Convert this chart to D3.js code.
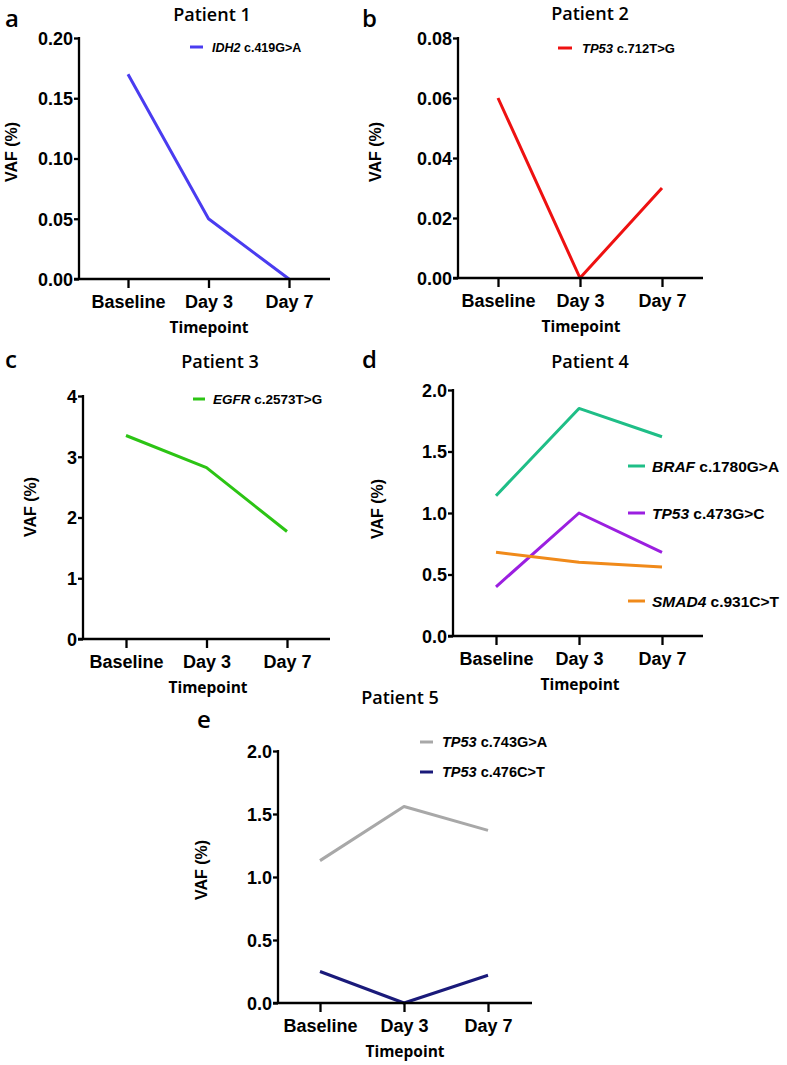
<!DOCTYPE html>
<html>
<head>
<meta charset="utf-8">
<script src="https://cdn.jsdelivr.net/npm/d3@7"></script>
<style>
  html, body { margin: 0; padding: 0; background: #fff; }
  svg { display: block; }
  .tick text { font-family: "Liberation Sans", Arial, sans-serif; font-weight: bold; font-size: 18px; fill: #000; }
</style>
</head>
<body>
<div id="chart"></div>
<script>
// ---------- DATA ----------
const timepoints = ["Baseline", "Day 3", "Day 7"];

const p1Series = [{ gene: "IDH2", change: "c.419G>A", values: [0.17, 0.05, 0.0] }];
const p2Series = [{ gene: "TP53", change: "c.712T>G", values: [0.06, 0.0, 0.03] }];
const p3Series = [{ gene: "EGFR", change: "c.2573T>G", values: [3.35, 2.82, 1.77] }];
const p4Series = [
  { gene: "BRAF", change: "c.1780G>A", values: [1.14, 1.85, 1.62] },
  { gene: "TP53", change: "c.473G>C", values: [0.40, 1.00, 0.68] },
  { gene: "SMAD4", change: "c.931C>T", values: [0.68, 0.60, 0.56] }
];
const p5Series = [
  { gene: "TP53", change: "c.743G>A", values: [1.13, 1.56, 1.37] },
  { gene: "TP53", change: "c.476C>T", values: [0.25, 0.0, 0.22] }
];

const p1Ticks = [0, 0.05, 0.10, 0.15, 0.20];
const p2Ticks = [0, 0.02, 0.04, 0.06, 0.08];
const p3Ticks = [0, 1, 2, 3, 4];
const p4Ticks = [0, 0.5, 1.0, 1.5, 2.0];
const p5Ticks = [0, 0.5, 1.0, 1.5, 2.0];

const panelTitles = ["Patient 1", "Patient 2", "Patient 3", "Patient 4", "Patient 5"];
const panelLetters = ["a", "b", "c", "d", "e"];
const yAxisLabel = "VAF (%)";
const xAxisLabel = "Timepoint";

// ---------- STYLES / LAYOUT ----------
const W = 787, H = 1065;
const svg = d3.select("#chart").append("svg").attr("width", W).attr("height", H);

const titleFont = "'Open Sans', 'Noto Sans', sans-serif";
const tickFont = "'Liberation Sans', Arial, sans-serif";

const panels = [
  { series: p1Series, ticks: p1Ticks, fmt: ".2f", colors: ["#4a3cf0"],
    x0: 79, x1: 330, px: [128, 289], yTop: 38, yBot: 279,
    yLab: [11, 152], title: [212, 21], letter: [5, 27], xLab: 209,
    legend: { lx: 190, lw: 13, tx: 212, ys: [47], fs: 12.5 } },
  { series: p2Series, ticks: p2Ticks, fmt: ".2f", colors: ["#ee1111"],
    x0: 458, x1: 703, px: [498, 662], yTop: 38, yBot: 278,
    yLab: [375, 152], title: [590, 20], letter: [362, 27], xLab: 581,
    legend: { lx: 558, lw: 14, tx: 582, ys: [48], fs: 13 } },
  { series: p3Series, ticks: p3Ticks, fmt: "d", colors: ["#2cc414"],
    x0: 83, x1: 330, px: [126, 287], yTop: 396, yBot: 639,
    yLab: [30, 507], title: [220, 368], letter: [5, 368], xLab: 208,
    legend: { lx: 193, lw: 12, tx: 213, ys: [399], fs: 13.5 } },
  { series: p4Series, ticks: p4Ticks, fmt: ".1f", colors: ["#1fbe87", "#9b1fe0", "#f08a1a"],
    x0: 453, x1: 703, px: [496, 662], yTop: 390, yBot: 636,
    yLab: [377, 509], title: [590, 368], letter: [362, 368], xLab: 580,
    legend: { lx: 628, lw: 17, tx: 652, ys: [466, 513, 601], fs: 15.5 } },
  { series: p5Series, ticks: p5Ticks, fmt: ".1f", colors: ["#a8a8a8", "#1a1a7a"],
    x0: 278, x1: 532, px: [320, 488], yTop: 751, yBot: 1003,
    yLab: [201, 870], title: [400, 704], letter: [197, 728], xLab: 405,
    legend: { lx: 420, lw: 13, tx: 442, ys: [742, 772], fs: 14.5 } }
];

panels.forEach((p, i) => {
  const g = svg.append("g");
  const x = d3.scalePoint().domain(timepoints).range(p.px);
  const y = d3.scaleLinear().domain([0, d3.max(p.ticks)]).range([p.yBot, p.yTop]);

  // lines
  const line = d3.line().x((d, k) => x(timepoints[k])).y(d => y(d));
  p.series.forEach((s, j) => {
    g.append("path").datum(s.values)
      .attr("d", line)
      .attr("fill", "none")
      .attr("stroke", p.colors[j])
      .attr("stroke-width", 3)
      .attr("stroke-linejoin", "round");
  });

  // y axis
  const yAx = g.append("g").attr("transform", `translate(${p.x0},0)`)
    .call(d3.axisLeft(y).tickValues(p.ticks).tickFormat(d3.format(p.fmt)).tickSize(5).tickPadding(1).tickSizeOuter(0));
  yAx.select(".domain").remove();
  yAx.selectAll(".tick line").attr("stroke", "#000").attr("stroke-width", 2.3);
  yAx.selectAll(".tick text").attr("dy", "0.36em");
  g.append("line").attr("x1", p.x0).attr("x2", p.x0).attr("y1", p.yTop - 1).attr("y2", p.yBot + 1)
    .attr("stroke", "#000").attr("stroke-width", 2.3);

  // x axis
  const xAx = g.append("g").attr("transform", `translate(0,${p.yBot})`)
    .call(d3.axisBottom(x).tickSize(9).tickPadding(7).tickSizeOuter(0));
  xAx.select(".domain").remove();
  xAx.selectAll(".tick line").attr("stroke", "#000").attr("stroke-width", 2.3);
  g.append("line").attr("x1", p.x0 - 5).attr("x2", p.x1).attr("y1", p.yBot).attr("y2", p.yBot)
    .attr("stroke", "#000").attr("stroke-width", 2.3);

  // axis labels
  g.append("text").attr("transform", `translate(${p.yLab[0]},${p.yLab[1]}) rotate(-90)`)
    .attr("text-anchor", "middle").attr("dy", "0.35em")
    .style("font-family", tickFont).style("font-weight", "bold").style("font-size", "16px")
    .text(yAxisLabel);
  g.append("text").attr("x", p.xLab).attr("y", p.yBot + 54)
    .attr("text-anchor", "middle")
    .style("font-family", titleFont).style("font-weight", "700").style("font-size", "15.5px")
    .text(xAxisLabel);

  // title
  g.append("text").attr("x", p.title[0]).attr("y", p.title[1])
    .attr("text-anchor", "middle")
    .style("font-family", titleFont).style("font-weight", "600").style("font-size", "18px")
    .text(panelTitles[i]);

  // letter
  g.append("text").attr("x", p.letter[0]).attr("y", p.letter[1])
    .style("font-family", titleFont).style("font-weight", "600").style("font-size", "24px")
    .text(panelLetters[i]);

  // legend
  p.series.forEach((s, j) => {
    const ly = p.legend.ys[j];
    g.append("line").attr("x1", p.legend.lx).attr("x2", p.legend.lx + p.legend.lw)
      .attr("y1", ly).attr("y2", ly).attr("stroke", p.colors[j]).attr("stroke-width", 3);
    const t = g.append("text").attr("x", p.legend.tx).attr("y", ly).attr("dy", "0.36em")
      .style("font-family", tickFont).style("font-weight", "bold").style("font-size", p.legend.fs + "px");
    t.append("tspan").style("font-style", "italic").text(s.gene);
    t.append("tspan").text(" " + s.change);
  });
});
</script>
</body>
</html>
